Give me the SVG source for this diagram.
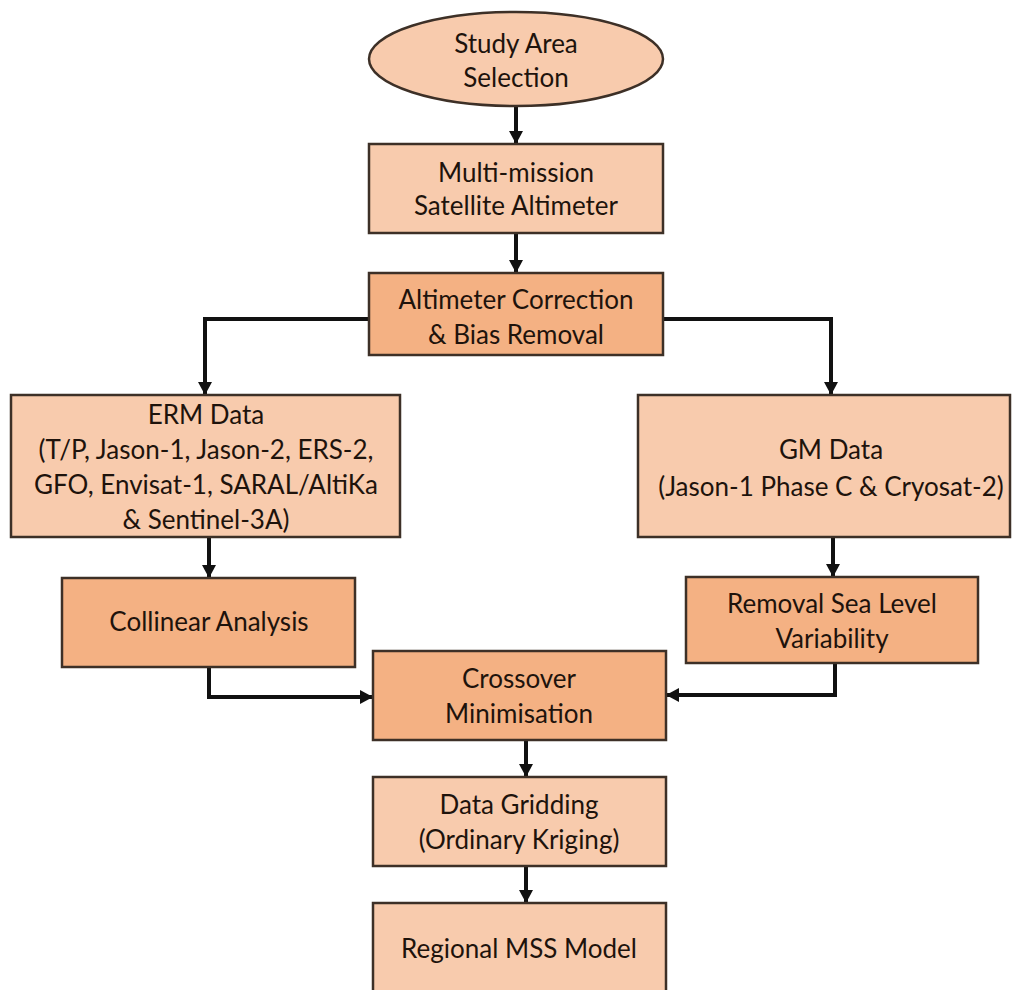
<svg xmlns="http://www.w3.org/2000/svg" width="1013" height="990" viewBox="0 0 1013 990">
<defs>
<marker id="ah" markerUnits="userSpaceOnUse" markerWidth="14" markerHeight="14" refX="13" refY="7" orient="auto">
<path d="M0,0 L13,7 L0,14 z" fill="#111"/>
</marker>
<style>
.light{fill:#F8CBAD;stroke:#3d3027;stroke-width:2.5}
.dark{fill:#F4B183;stroke:#3d3027;stroke-width:2.5}
.t{font-family:Lato,"Liberation Sans",sans-serif;font-size:26px;fill:#1e130c;text-anchor:middle}
.c{fill:none;stroke:#111;stroke-width:4;marker-end:url(#ah)}
</style>
</defs>
<rect width="1013" height="990" fill="#ffffff"/>
<g id="connectors">
<path class="c" d="M516 106 V144"/>
<path class="c" d="M516 233 V273"/>
<path class="c" d="M369 319 H205 V395"/>
<path class="c" d="M663 319 H831 V395"/>
<path class="c" d="M209 537 V578"/>
<path class="c" d="M833 537 V577"/>
<path class="c" d="M209 667 V697 H373"/>
<path class="c" d="M835 663 V695 H666"/>
<path class="c" d="M526 740 V777"/>
<path class="c" d="M526 866 V903"/>
</g>
<g id="study-area">
<ellipse class="light" cx="516" cy="59" rx="147" ry="47"/>
<text class="t" x="516" y="53">Study Area</text>
<text class="t" x="516" y="87">Selection</text>
</g>
<g id="multi-mission">
<rect class="light" x="369" y="144" width="294" height="89"/>
<text class="t" x="516" y="182">Multi-mission</text>
<text class="t" x="516" y="215">Satellite Altimeter</text>
</g>
<g id="altimeter-correction">
<rect class="dark" x="369" y="273" width="294" height="82"/>
<text class="t" x="516" y="309">Altimeter Correction</text>
<text class="t" x="516" y="344">&amp; Bias Removal</text>
</g>
<g id="erm-data">
<rect class="light" x="11" y="395" width="389" height="142"/>
<text class="t" x="206" y="424">ERM Data</text>
<text class="t" x="206" y="459">(T/P, Jason-1, Jason-2, ERS-2,</text>
<text class="t" x="206" y="494">GFO, Envisat-1, SARAL/AltiKa</text>
<text class="t" x="206" y="529">&amp; Sentinel-3A)</text>
</g>
<g id="gm-data">
<rect class="light" x="638" y="395" width="372" height="142"/>
<text class="t" x="831" y="459">GM Data</text>
<text class="t" x="831" y="496">(Jason-1 Phase C &amp; Cryosat-2)</text>
</g>
<g id="collinear">
<rect class="dark" x="62" y="578" width="293" height="89"/>
<text class="t" x="209" y="631">Collinear Analysis</text>
</g>
<g id="removal">
<rect class="dark" x="686" y="577" width="292" height="86"/>
<text class="t" x="832" y="613">Removal Sea Level</text>
<text class="t" x="832" y="648">Variability</text>
</g>
<g id="crossover">
<rect class="dark" x="373" y="651" width="293" height="89"/>
<text class="t" x="519" y="688">Crossover</text>
<text class="t" x="519" y="723">Minimisation</text>
</g>
<g id="data-gridding">
<rect class="light" x="373" y="777" width="293" height="89"/>
<text class="t" x="519" y="814">Data Gridding</text>
<text class="t" x="519" y="849">(Ordinary Kriging)</text>
</g>
<g id="regional-mss">
<rect class="light" x="373" y="903" width="293" height="100"/>
<text class="t" x="519" y="958">Regional MSS Model</text>
</g>
</svg>
